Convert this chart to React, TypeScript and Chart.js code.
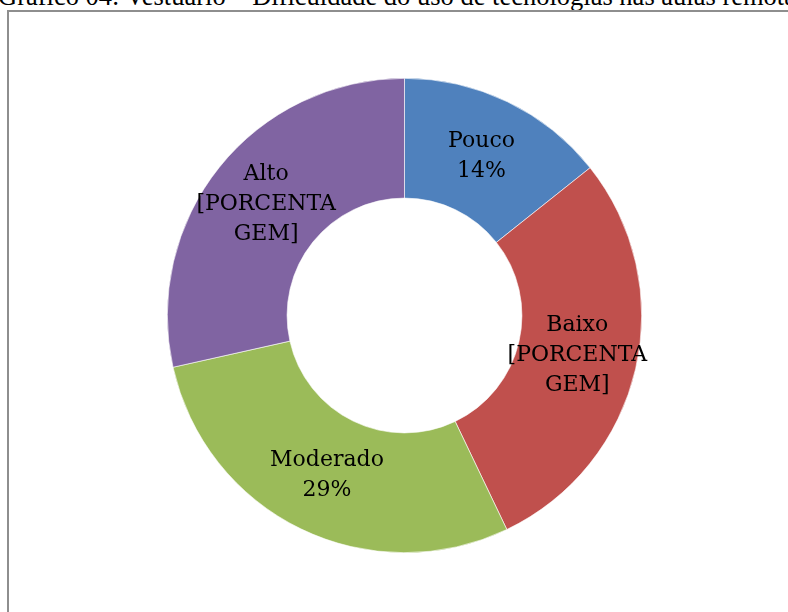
import React, { useEffect, useRef } from "react";
import { Chart, registerables } from "chart.js";
Chart.register(...registerables);

const title = "Gráfico 04: Vestuário – Dificuldade do uso de tecnologias nas aulas remotas";
const categories = ["Pouco", "Baixo", "Moderado", "Alto"];
const values = [14.3, 28.6, 28.6, 28.5];
const valueTexts = [["14%"], ["[PORCENTA", "GEM]"], ["29%"], ["[PORCENTA", "GEM]"]];
const colors = ["#4F81BD", "#C0504D", "#9BBB59", "#8064A2"];

const labelFont = '22px "DejaVu Serif"';
const lineHeight = 30;

const labelPlugin = {
  id: "arcLabels",
  afterDatasetsDraw(chart: any) {
    const ctx = chart.ctx;
    const meta = chart.getDatasetMeta(0);
    ctx.save();
    ctx.font = labelFont;
    ctx.fillStyle = "#000";
    ctx.textAlign = "center";
    ctx.textBaseline = "middle";
    meta.data.forEach((arc: any, i: number) => {
      const p = arc.getCenterPoint();
      const lines = [categories[i], ...valueTexts[i]];
      const startY = p.y - ((lines.length - 1) * lineHeight) / 2;
      lines.forEach((ln, j) => ctx.fillText(ln, p.x, startY + j * lineHeight));
    });
    ctx.restore();
  },
};

export default function App() {
  const ref = useRef<HTMLCanvasElement>(null);
  useEffect(() => {
    const chart = new Chart(ref.current!, {
      type: "doughnut",
      data: {
        labels: categories,
        datasets: [
          {
            data: values,
            backgroundColor: colors,
            borderColor: "#ffffff",
            borderWidth: 0.6,
          },
        ],
      },
      options: {
        animation: false,
        responsive: false,
        cutout: "49.5%",
        layout: { padding: { top: 78, bottom: 59, left: 21, right: 0 } },
        plugins: { legend: { display: false }, tooltip: { enabled: false }, title: { display: false } },
      },
      plugins: [labelPlugin],
    });
    return () => chart.destroy();
  }, []);

  return (
    <div style={{ position: "absolute", left: 0, top: 0, width: 788, height: 612, overflow: "hidden", background: "#fff" }}>
      <div
        style={{
          position: "absolute",
          left: -2,
          top: -19,
          whiteSpace: "nowrap",
          fontFamily: '"Liberation Serif", serif',
          fontSize: 26.5,
          lineHeight: "normal",
          color: "#000",
        }}
      >
        {title}
      </div>
      <div
        style={{
          position: "absolute",
          left: 7,
          top: 10,
          width: 800,
          height: 620,
          borderLeft: "2px solid #8e8e8e",
          borderTop: "2px solid #8e8e8e",
          boxSizing: "border-box",
        }}
      />
      <canvas ref={ref} width={788} height={612} style={{ position: "absolute", left: 0, top: 0 }} />
    </div>
  );
}
